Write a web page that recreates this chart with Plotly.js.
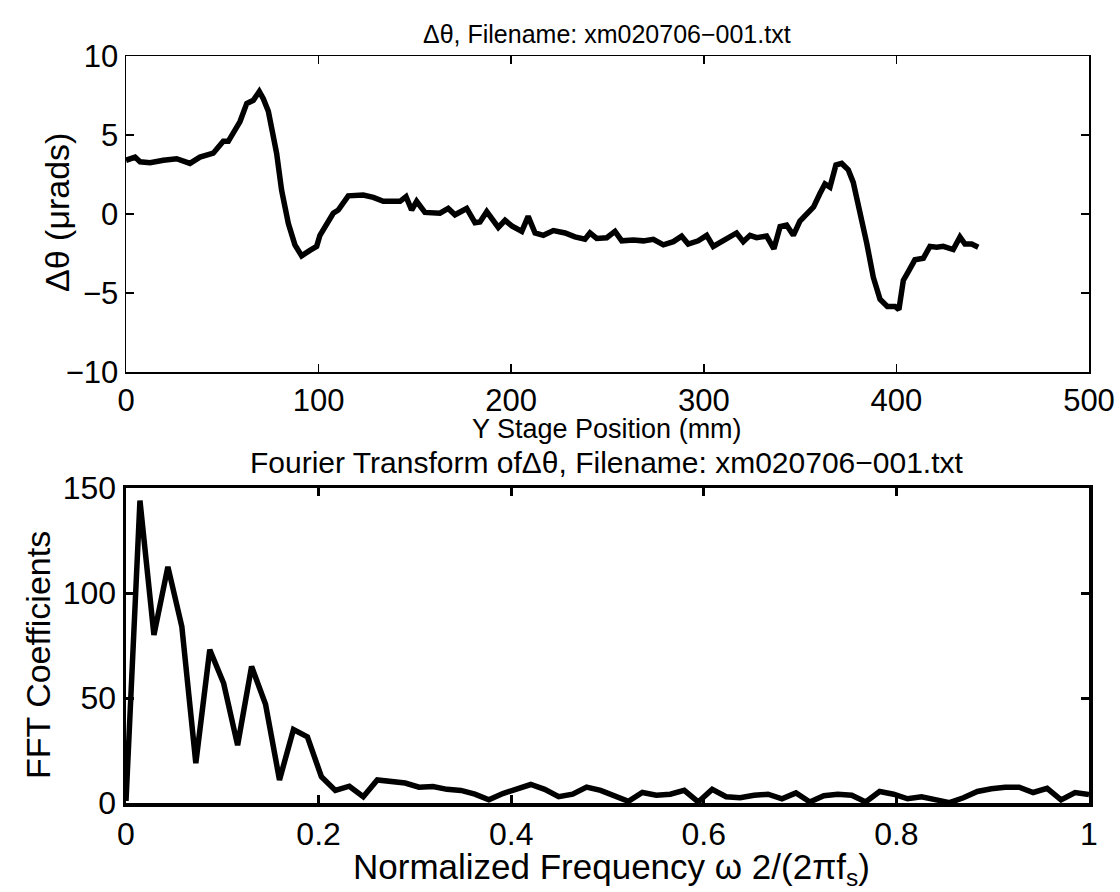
<!DOCTYPE html>
<html><head><meta charset="utf-8">
<script src="https://cdn.plot.ly/plotly-3.0.1.min.js"></script>
<style>html,body{margin:0;padding:0;background:#fff}</style>
</head><body><div id="chart" style="width:1120px;height:892px"></div>
<script>
// Top panel: Δθ vs Y stage position (mm)
const posMm = [0,4.7,7.3,12.5,19.4,26.3,33.2,38.4,45.3,50.5,53.1,59.2,62.7,66.1,69.2,71.3,73.9,78.2,80.8,84.3,87.7,91.2,95.5,99,100.7,104.2,107.6,110.2,112.8,115.4,123.2,128.4,133.6,142.3,145.4,148.3,150.9,155.2,163,167.3,170.8,176.9,181.2,183.8,187.3,193.3,196.8,200.3,205.5,208.8,212.4,216.7,221.9,228,233.1,238.3,240.9,244.4,249.6,253.9,257.4,263.4,268.6,273.8,279,284.2,288.5,291.9,297.1,301.5,304.9,310.1,317,320.5,324,327.4,332.6,336.4,339.6,343,346.5,349.9,355.1,357,360.3,362.9,365.5,368.6,371.6,375,377.6,381.1,384.6,388,391.5,395.3,399.3,401.3,403.6,406.2,409.6,414,417.4,420.9,424.3,429.5,433,435.6,439.1,442.5];
const dTheta = [3.4,3.6,3.3,3.25,3.4,3.5,3.2,3.6,3.85,4.6,4.6,5.85,7.0,7.2,7.75,7.3,6.5,3.85,1.5,-0.6,-1.95,-2.65,-2.3,-2.05,-1.35,-0.7,0.05,0.25,0.7,1.15,1.2,1.05,0.8,0.8,1.1,0.25,0.8,0.1,0.05,0.35,-0.05,0.35,-0.55,-0.5,0.15,-0.85,-0.4,-0.75,-1.1,-0.15,-1.2,-1.35,-1.05,-1.2,-1.45,-1.6,-1.2,-1.55,-1.5,-1.1,-1.7,-1.65,-1.7,-1.6,-1.95,-1.75,-1.4,-1.9,-1.7,-1.35,-2.05,-1.7,-1.2,-1.75,-1.35,-1.5,-1.4,-2.2,-0.8,-0.7,-1.35,-0.45,0.25,0.45,1.3,1.9,1.7,3.1,3.2,2.8,2.0,0.2,-1.85,-4.0,-5.4,-5.85,-5.85,-6.05,-4.2,-3.65,-2.9,-2.8,-2.05,-2.1,-2.05,-2.25,-1.45,-1.9,-1.9,-2.1];

// Bottom panel: FFT coefficients vs normalized frequency
const freqNorm = [0,0.0145,0.029,0.0435,0.058,0.0725,0.087,0.1014,0.1159,0.1304,0.1449,0.1594,0.1739,0.1884,0.2029,0.2174,0.2319,0.2464,0.2609,0.2754,0.2899,0.3043,0.3188,0.3333,0.3478,0.3623,0.3768,0.3913,0.4058,0.4203,0.4348,0.4493,0.4638,0.4783,0.4928,0.5072,0.5217,0.5362,0.5507,0.5652,0.5797,0.5942,0.6087,0.6232,0.6377,0.6522,0.6667,0.6812,0.6957,0.7101,0.7246,0.7391,0.7536,0.7681,0.7826,0.7971,0.8116,0.8261,0.8406,0.8551,0.8696,0.8841,0.8986,0.913,0.9275,0.942,0.9565,0.971,0.9855,1];
const fftCoef = [1,144,80,112.5,84,19,73,57,27.5,65,47,11,35,31.5,12.5,6,8,3,11,10.5,9.5,7.5,7.8,6.5,6,4.2,1.5,4.5,6.5,8.8,6.5,3,4.2,7.6,6,3.4,0.8,5,3.7,4.2,6,0.5,6.5,3,2.5,3.7,4.2,2,4.8,0.5,3.5,4.2,3.7,0.5,5.5,4.2,2,3,1.7,0.2,2.5,5.5,6.8,7.5,7.5,5,7,1.5,5,4];

const xTop = [0,100,200,300,400,500];
const yTop = [-10,-5,0,5,10];
const yTopText = ['−10','−5','0','5','10'];
const xBot = [0,0.2,0.4,0.6,0.8,1];
const xBotText = ['0','0.2','0.4','0.6','0.8','1'];
const yBot = [0,50,100,150];

const FONT = 'Liberation Sans, Arial, Helvetica, sans-serif';
const W = 1120, H = 892;
const px = v => v / W;
const py = v => 1 - v / H;

function ax(extra, fsize) {
  return Object.assign({
    showline: true, linecolor: 'black', mirror: 'ticks', ticks: 'inside',
    ticklen: 8, tickcolor: 'black', showgrid: false, zeroline: false,
    tickfont: {family: FONT, size: fsize, color: 'black'}, tickmode: 'array'
  }, extra);
}

const traces = [
  {x: posMm, y: dTheta, type: 'scatter', mode: 'lines', xaxis: 'x', yaxis: 'y',
   line: {color: 'black', width: 5.5}, hoverinfo: 'skip'},
  {x: freqNorm, y: fftCoef, type: 'scatter', mode: 'lines', xaxis: 'x2', yaxis: 'y2',
   line: {color: 'black', width: 5.5}, hoverinfo: 'skip'}
];

function label(text, x, y, size, angle) {
  return {text: text, x: px(x), y: py(y), xref: 'paper', yref: 'paper', showarrow: false,
    textangle: angle || 0, font: {family: FONT, size: size, color: 'black'},
    xanchor: 'center', yanchor: 'middle'};
}

const layout = {
  width: W, height: H, showlegend: false,
  margin: {l: 0, r: 0, t: 0, b: 0},
  paper_bgcolor: 'white', plot_bgcolor: 'white',
  xaxis: ax({domain: [px(126), px(1089)], range: [0, 500], tickvals: xTop, anchor: 'y', linewidth: 1.5, tickwidth: 1.5}, 31),
  yaxis: ax({domain: [py(372), py(56)], range: [-10, 10], tickvals: yTop, ticktext: yTopText, anchor: 'x', linewidth: 1.5, tickwidth: 1.5}, 31),
  xaxis2: ax({domain: [px(126), px(1089)], range: [0, 1], tickvals: xBot, ticktext: xBotText, anchor: 'y2', linewidth: 3.5, tickwidth: 3}, 32),
  yaxis2: ax({domain: [py(803), py(488)], range: [0, 150], tickvals: yBot, anchor: 'x2', linewidth: 3.5, tickwidth: 3}, 32),
  annotations: [
    label('Δθ, Filename: xm020706−001.txt', 607, 34, 25),
    label('Y Stage Position (mm)', 607, 429, 27),
    label('Δθ (μrads)', 57, 213, 34, -90),
    label('Fourier Transform ofΔθ, Filename: xm020706−001.txt', 607, 462, 30),
    label('FFT Coefficients', 38, 655, 34, -90),
    label('Normalized Frequency ω 2/(2πf<sub>s</sub>)', 612, 869, 35)
  ]
};

Plotly.newPlot('chart', traces, layout, {staticPlot: true, displayModeBar: false});
</script></body></html>
